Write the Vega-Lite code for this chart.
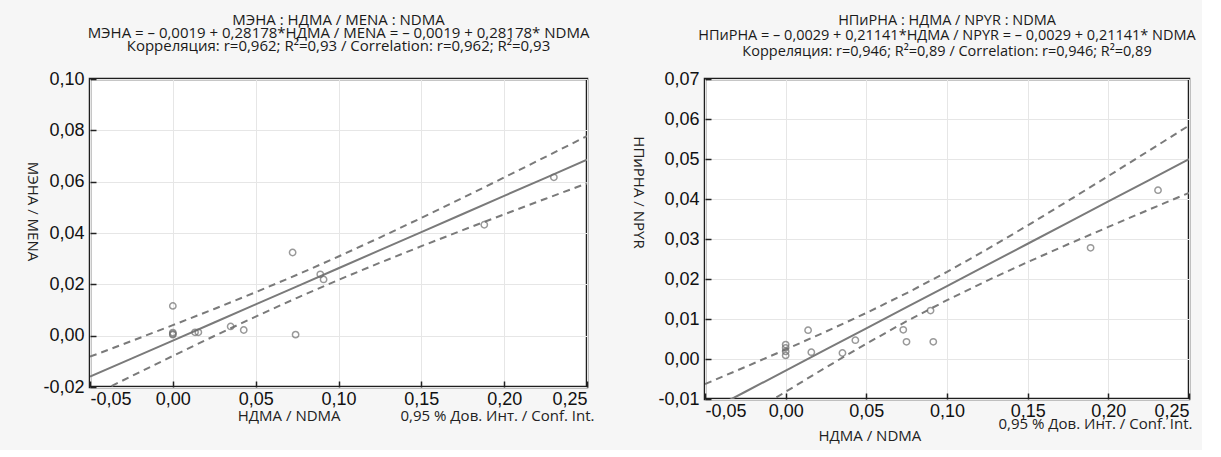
{
  "$schema": "https://vega.github.io/schema/vega-lite/v6.json",
  "padding": {"left": 22, "top": 11, "right": 4, "bottom": 5},
  "spacing": 32,
  "datasets": {
    "menaPts": [
      {"ndma": 0.230, "mena": 0.0617},
      {"ndma": 0.188, "mena": 0.0432},
      {"ndma": 0.0723, "mena": 0.0324},
      {"ndma": 0.089, "mena": 0.0239},
      {"ndma": 0.091, "mena": 0.0219},
      {"ndma": 0.000, "mena": 0.0116},
      {"ndma": 0.000, "mena": 0.0012},
      {"ndma": 0.000, "mena": 0.0007},
      {"ndma": 0.000, "mena": 0.0004},
      {"ndma": 0.0134, "mena": 0.0013},
      {"ndma": 0.0154, "mena": 0.0013},
      {"ndma": 0.0349, "mena": 0.0036},
      {"ndma": 0.0428, "mena": 0.0022},
      {"ndma": 0.0741, "mena": 0.0004}
    ],
    "menaFit": [
      {"ndma": -0.05, "fit": -0.01599, "upper": -0.00819, "lower": -0.02379},
      {"ndma": -0.025, "fit": -0.00894, "upper": -0.00209, "lower": -0.01579},
      {"ndma": 0.0, "fit": -0.0019, "upper": 0.00409, "lower": -0.00789},
      {"ndma": 0.025, "fit": 0.00514, "upper": 0.01041, "lower": -0.00013},
      {"ndma": 0.05, "fit": 0.01219, "upper": 0.01694, "lower": 0.00744},
      {"ndma": 0.075, "fit": 0.01923, "upper": 0.02372, "lower": 0.01474},
      {"ndma": 0.1, "fit": 0.02628, "upper": 0.03083, "lower": 0.02173},
      {"ndma": 0.125, "fit": 0.03332, "upper": 0.03823, "lower": 0.02841},
      {"ndma": 0.15, "fit": 0.04037, "upper": 0.04588, "lower": 0.03486},
      {"ndma": 0.175, "fit": 0.04741, "upper": 0.05370, "lower": 0.04112},
      {"ndma": 0.2, "fit": 0.05446, "upper": 0.06164, "lower": 0.04728},
      {"ndma": 0.225, "fit": 0.06150, "upper": 0.06966, "lower": 0.05334},
      {"ndma": 0.25, "fit": 0.06855, "upper": 0.07774, "lower": 0.05936}
    ],
    "npyrPts": [
      {"ndma": 0.000, "npyr": 0.0036},
      {"ndma": 0.000, "npyr": 0.0028},
      {"ndma": 0.000, "npyr": 0.0019},
      {"ndma": 0.000, "npyr": 0.0009},
      {"ndma": 0.0139, "npyr": 0.0072},
      {"ndma": 0.0159, "npyr": 0.0017},
      {"ndma": 0.0352, "npyr": 0.0015},
      {"ndma": 0.0432, "npyr": 0.0047},
      {"ndma": 0.0729, "npyr": 0.0073},
      {"ndma": 0.0749, "npyr": 0.0043},
      {"ndma": 0.0898, "npyr": 0.0121},
      {"ndma": 0.0915, "npyr": 0.0043},
      {"ndma": 0.189, "npyr": 0.0278},
      {"ndma": 0.2308, "npyr": 0.0422}
    ],
    "npyrFit": [
      {"ndma": -0.05, "fit": -0.01347, "upper": -0.00627, "lower": -0.02067},
      {"ndma": -0.025, "fit": -0.00819, "upper": -0.00199, "lower": -0.01439},
      {"ndma": 0.0, "fit": -0.0029, "upper": 0.00238, "lower": -0.00818},
      {"ndma": 0.025, "fit": 0.00239, "upper": 0.00686, "lower": -0.00208},
      {"ndma": 0.05, "fit": 0.00767, "upper": 0.01151, "lower": 0.00383},
      {"ndma": 0.075, "fit": 0.01296, "upper": 0.01646, "lower": 0.00946},
      {"ndma": 0.1, "fit": 0.01824, "upper": 0.02177, "lower": 0.01471},
      {"ndma": 0.125, "fit": 0.02353, "upper": 0.02745, "lower": 0.01961},
      {"ndma": 0.15, "fit": 0.02881, "upper": 0.03339, "lower": 0.02423},
      {"ndma": 0.175, "fit": 0.03410, "upper": 0.03952, "lower": 0.02868},
      {"ndma": 0.2, "fit": 0.03938, "upper": 0.04574, "lower": 0.03302},
      {"ndma": 0.225, "fit": 0.04467, "upper": 0.05203, "lower": 0.03731},
      {"ndma": 0.25, "fit": 0.04995, "upper": 0.05836, "lower": 0.04154}
    ]
  },
  "hconcat": [
    {
      "width": 497,
      "height": 308,
      "title": {
        "text": [
          "МЭНА : НДМА / MENA : NDMA",
          "МЭНА = – 0,0019 + 0,28178*НДМА / MENA = – 0,0019 + 0,28178* NDMA",
          "Корреляция: r=0,962; R²=0,93 / Correlation: r=0,962; R²=0,93"
        ],
        "lineHeight": 13,
        "offset": 16.5
      },
      "layer": [
        {
          "data": {"name": "menaFit"},
          "mark": {"type": "line", "color": "#7a7a7a", "strokeWidth": 2, "clip": true},
          "encoding": {
            "x": {
              "field": "ndma", "type": "quantitative",
              "scale": {"domain": [-0.05, 0.25], "nice": false, "zero": false},
              "axis": {
                "values": [-0.05, 0, 0.05, 0.1, 0.15, 0.2, 0.25],
                "tickCount": 8,
                "format": ".2f",
                "labelPadding": 9.5,
                "title": "НДМА / NDMA\u2003\u2003\u2003\u20030,95 % Дов. Инт. / Conf. Int.",
                "titleX": 504,
                "titleY": 21,
                "titleAlign": "right",
                "titleBaseline": "top"
              }
            },
            "y": {
              "field": "fit", "type": "quantitative",
              "scale": {"domain": [-0.02, 0.1], "nice": false, "zero": false},
              "axis": {
                "values": [-0.02, 0, 0.02, 0.04, 0.06, 0.08, 0.1],
                "tickCount": 8,
                "format": ".2f",
                "labelPadding": 12,
                "title": "МЭНА / MENA",
                "titleAngle": 90,
                "titleX": -58,
                "titleY": 132,
                "titleAlign": "center",
                "titleBaseline": "middle"
              }
            }
          }
        },
        {
          "data": {"name": "menaFit"},
          "mark": {"type": "line", "color": "#7a7a7a", "strokeWidth": 2, "strokeDash": [7, 5], "clip": true},
          "encoding": {
            "x": {"field": "ndma", "type": "quantitative"},
            "y": {"field": "upper", "type": "quantitative"}
          }
        },
        {
          "data": {"name": "menaFit"},
          "mark": {"type": "line", "color": "#7a7a7a", "strokeWidth": 2, "strokeDash": [7, 5], "clip": true},
          "encoding": {
            "x": {"field": "ndma", "type": "quantitative"},
            "y": {"field": "lower", "type": "quantitative"}
          }
        },
        {
          "data": {"name": "menaPts"},
          "mark": {"type": "point", "shape": "circle", "filled": false, "size": 40, "color": "#6e6e6e", "strokeWidth": 1.5},
          "encoding": {
            "x": {"field": "ndma", "type": "quantitative"},
            "y": {"field": "mena", "type": "quantitative"}
          }
        }
      ]
    },
    {
      "width": 484,
      "height": 320,
      "title": {
        "text": [
          "НПиРНА : НДМА / NPYR : NDMA",
          "НПиРНА = – 0,0029 + 0,21141*НДМА / NPYR = – 0,0029 + 0,21141* NDMA",
          "Корреляция: r=0,946; R²=0,89 / Correlation: r=0,946; R²=0,89"
        ],
        "lineHeight": 15.5,
        "fontSize": 14.5,
        "offset": 11
      },
      "layer": [
        {
          "data": {"name": "npyrFit"},
          "mark": {"type": "line", "color": "#7a7a7a", "strokeWidth": 2, "clip": true},
          "encoding": {
            "x": {
              "field": "ndma", "type": "quantitative",
              "scale": {"domain": [-0.05, 0.25], "nice": false, "zero": false},
              "axis": {
                "values": [-0.05, 0, 0.05, 0.1, 0.15, 0.2, 0.25],
                "tickCount": 8,
                "format": ".2f",
                "labelPadding": 9.5,
                "title": ["\u200b\u2003\u2003\u2003\u2003\u2003\u2003\u2003\u2003\u2003\u2003\u2003\u20030,95 % Дов. Инт. / Conf. Int.", "НДМА / NDMA"],
                "titleX": 113,
                "titleY": 17,
                "titleAlign": "left",
                "titleBaseline": "top",
                "titleLineHeight": 12
              }
            },
            "y": {
              "field": "fit", "type": "quantitative",
              "scale": {"domain": [-0.01, 0.07], "nice": false, "zero": false},
              "axis": {
                "values": [-0.01, 0, 0.01, 0.02, 0.03, 0.04, 0.05, 0.06, 0.07],
                "tickCount": 10,
                "format": ".2f",
                "labelPadding": 12,
                "title": "НПиРНА / NPYR",
                "titleAngle": 90,
                "titleX": -67,
                "titleY": 113,
                "titleAlign": "center",
                "titleBaseline": "middle"
              }
            }
          }
        },
        {
          "data": {"name": "npyrFit"},
          "mark": {"type": "line", "color": "#7a7a7a", "strokeWidth": 2, "strokeDash": [7, 5], "clip": true},
          "encoding": {
            "x": {"field": "ndma", "type": "quantitative"},
            "y": {"field": "upper", "type": "quantitative"}
          }
        },
        {
          "data": {"name": "npyrFit"},
          "mark": {"type": "line", "color": "#7a7a7a", "strokeWidth": 2, "strokeDash": [7, 5], "clip": true},
          "encoding": {
            "x": {"field": "ndma", "type": "quantitative"},
            "y": {"field": "lower", "type": "quantitative"}
          }
        },
        {
          "data": {"name": "npyrPts"},
          "mark": {"type": "point", "shape": "circle", "filled": false, "size": 40, "color": "#6e6e6e", "strokeWidth": 1.5},
          "encoding": {
            "x": {"field": "ndma", "type": "quantitative"},
            "y": {"field": "npyr", "type": "quantitative"}
          }
        }
      ]
    }
  ],
  "config": {
    "background": "#f6f6f6",
    "view": {"fill": "white", "stroke": "#1e1e1e", "strokeWidth": 2.5},
    "locale": {
      "number": {"decimal": ",", "thousands": " ", "grouping": [3], "currency": ["", ""], "minus": "-"}
    },
    "axis": {
      "labelFont": "Liberation Sans",
      "labelFontSize": 18,
      "labelColor": "#111",
      "labelOverlap": false,
      "titleFont": "Open Sans",
      "titleFontSize": 15,
      "titleFontWeight": "normal",
      "titleColor": "#222",
      "gridColor": "#e6e6e6",
      "gridWidth": 1,
      "domain": false,
      "tickColor": "#222",
      "tickSize": -6,
      "tickWidth": 1.5
    },
    "title": {
      "font": "Open Sans",
      "fontSize": 15,
      "fontWeight": "normal",
      "color": "#1a1a1a",
      "anchor": "middle"
    }
  }
}
